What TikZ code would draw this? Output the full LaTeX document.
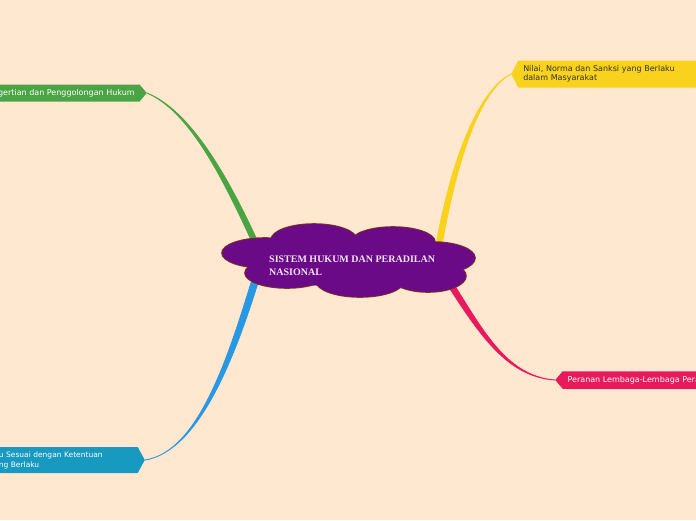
\documentclass[tikz,border=0pt]{standalone}
\usepackage{fontspec}
\setmainfont{Liberation Serif}
\newfontfamily\cabangfont{DejaVu Sans}
\usetikzlibrary{shapes.symbols}

\definecolor{latar}{HTML}{FFE7D0}
\definecolor{ungu}{HTML}{6A0A86}
\definecolor{coklat}{HTML}{7A3A12}
\definecolor{judulteks}{HTML}{F3E5F5}
\definecolor{hijau}{HTML}{4BA443}
\definecolor{kuning}{HTML}{F8D21C}
\definecolor{merah}{HTML}{E8195D}
\definecolor{biru}{HTML}{1799C0}
\definecolor{birugaris}{HTML}{2898E2}
\definecolor{gelap}{HTML}{333333}

\tikzset{
  cabang/.style={signal, draw=none, inner xsep=5pt, inner ysep=0pt,
    font={\cabangfont\fontsize{8}{9.5}\selectfont}, align=left, text=white},
  garis/.style={fill=#1, draw=#1, line width=0.8pt, line join=round},
  awan/.style={fill=ungu, draw=coklat, line width=1.6pt},
}

\begin{document}
\begin{tikzpicture}[x=1pt,y=-1pt]

  % latar
  \useasboundingbox (0,0) rectangle (696,520);
  \clip (0,0) rectangle (696,520);
  \fill[latar] (0,0) rectangle (696,520);

  % cabang
  \node[cabang, fill=hijau, signal to=east, signal pointer angle=100,
    minimum height=17pt, anchor=east] (pengertian) at (147,93)
    {Pengertian dan Penggolongan Hukum};
  \node[cabang, fill=kuning, text=gelap, signal to=west, signal pointer angle=125,
    minimum height=27pt, text width=190pt, anchor=west] (nilai) at (511,74)
    {Nilai, Norma dan Sanksi yang Berlaku\\dalam Masyarakat};
  \node[cabang, fill=merah, signal to=west, signal pointer angle=100,
    minimum height=17.5pt, anchor=west] (peranan) at (555,380)
    {Peranan Lembaga-Lembaga Peradilan};
  \node[cabang, fill=biru, signal to=east, signal pointer angle=123,
    minimum height=26pt, text width=172pt, anchor=east,
    font={\cabangfont\fontsize{7.5}{10}\selectfont}] (perilaku) at (145,460)
    {Berperilaku Sesuai dengan Ketentuan\\Hukum yang Berlaku};

  % titik di awan
  \coordinate (awanhijau) at (255,242);
  \coordinate (awankuning) at (439,245);
  \coordinate (awanmerah) at (449,282);
  \coordinate (awanbiru) at (256,278);

  % garis penghubung
  \filldraw[garis=hijau] (pengertian.east)
    .. controls (188,111) and (220,172) .. ([xshift=-3pt]awanhijau)
    -- ([xshift=3pt]awanhijau)
    .. controls (226,172) and (189,110) .. (pengertian.east) -- cycle;
  \filldraw[garis=kuning] (nilai.west)
    .. controls (480,89) and (452,155) .. ([xshift=-3pt]awankuning)
    -- ([xshift=3pt]awankuning)
    .. controls (458,155) and (481,90) .. (nilai.west) -- cycle;
  \filldraw[garis=merah] (peranan.west)
    .. controls (506,377) and (478,332) .. ([xshift=-3.5pt]awanmerah)
    -- ([xshift=3.5pt]awanmerah)
    .. controls (484,332) and (507,376) .. (peranan.west) -- cycle;
  \filldraw[garis=birugaris] (perilaku.east)
    .. controls (199,452) and (229,354) .. ([xshift=-3.5pt]awanbiru)
    -- ([xshift=3.5pt]awanbiru)
    .. controls (236,354) and (200,451) .. (perilaku.east) -- cycle;

  % awan
  \foreach \cx/\cy/\rx/\ry in {265/253/43/15, 314/240/43/16, 393/242/42/15,
      433/258/42/16, 428/276/38/16, 360/281/44/16, 287/273/42/15}
    \draw[awan] (\cx,\cy) ellipse ({\rx} and {\ry});
  \foreach \cx/\cy/\rx/\ry in {265/253/43/15, 314/240/43/16, 393/242/42/15,
      433/258/42/16, 428/276/38/16, 360/281/44/16, 287/273/42/15, 350/262/100/25}
    \fill[ungu] (\cx,\cy) ellipse ({\rx} and {\ry});

  % judul
  \node[anchor=west, inner sep=0pt, align=left, text=judulteks,
    font={\fontsize{10}{13}\selectfont\bfseries}] (judul) at (269,265.5)
    {SISTEM HUKUM DAN PERADILAN\\NASIONAL};

\end{tikzpicture}
\end{document}
